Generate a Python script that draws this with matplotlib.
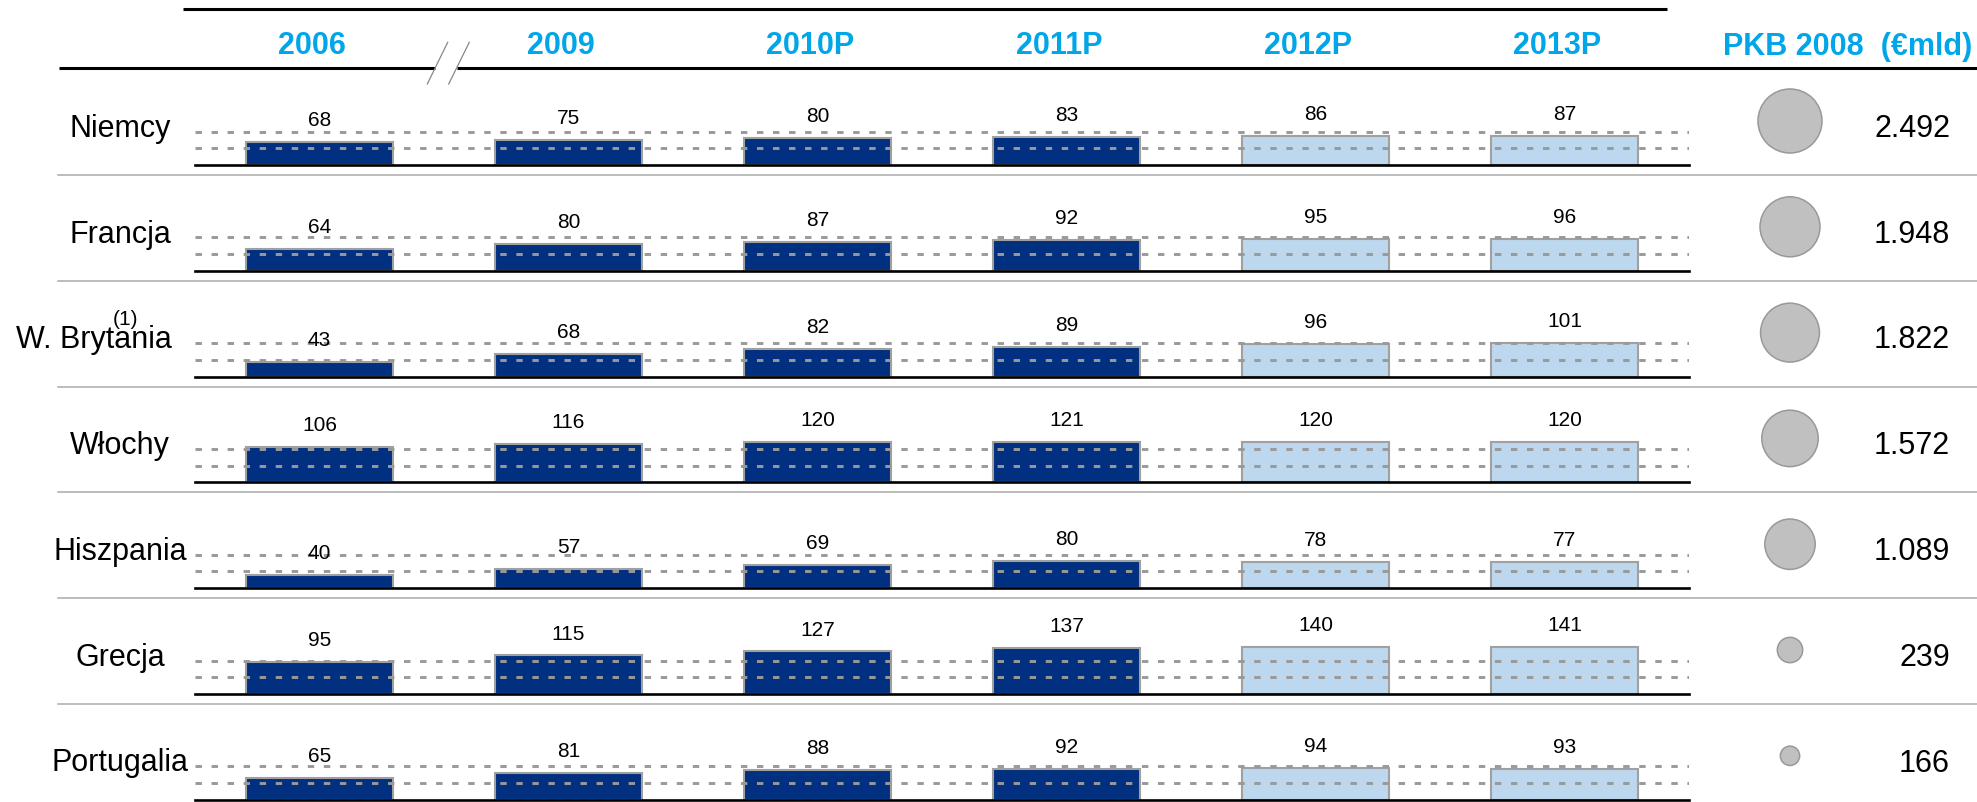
import matplotlib
matplotlib.use('Agg')
import matplotlib.pyplot as plt
import numpy as np

plt.rcParams['font.family'] = ['Liberation Sans', 'DejaVu Sans']

# --- data -------------------------------------------------------------------
years = ['2006', '2009', '2010P', '2011P', '2012P', '2013P']
projected = [False, False, False, False, True, True]
countries = ['Niemcy', 'Francja', 'W. Brytania', 'Włochy', 'Hiszpania', 'Grecja', 'Portugalia']

debt_niemcy = [68, 75, 80, 83, 86, 87]
debt_francja = [64, 80, 87, 92, 95, 96]
debt_wbrytania = [43, 68, 82, 89, 96, 101]
debt_wlochy = [106, 116, 120, 121, 120, 120]
debt_hiszpania = [40, 57, 69, 80, 78, 77]
debt_grecja = [95, 115, 127, 137, 140, 141]
debt_portugalia = [65, 81, 88, 92, 94, 93]
debt = [debt_niemcy, debt_francja, debt_wbrytania, debt_wlochy,
        debt_hiszpania, debt_grecja, debt_portugalia]

gdp_2008 = [2492, 1948, 1822, 1572, 1089, 239, 166]
guide_levels = [50, 100]
footnotes = {'W. Brytania': '(1)'}

# --- layout (pixels) ----------------------------------------------------------
W, H = 1977, 803
ROW0, ROW_STEP = 166, 105.8       # baseline of first row, row pitch
PX_PER_UNIT = 0.335               # bar height scale
BAR_LEFT, BAR_RIGHT = 195, 1689
HEAD_COLOR = '#00A6E8'
DARK, LIGHT = '#00307F', '#BDD7EE'
EDGE = '#A0A0A0'


def fx(px):
    return px / W


def fy(py):
    return 1 - py / H


fig = plt.figure(figsize=(W / 100, H / 100), dpi=100)

# decoration layer in pixel coordinates
deco = fig.add_axes([0, 0, 1, 1])
deco.set_xlim(0, W)
deco.set_ylim(H, 0)
deco.axis('off')

deco.plot([183, 1667], [10, 10], color='black', lw=2.2, solid_capstyle='butt')
deco.plot([59, 435], [69, 69], color='black', lw=2.2, solid_capstyle='butt')
deco.plot([457, W], [69, 69], color='black', lw=2.2, solid_capstyle='butt')
# axis break between 2006 and 2009
deco.plot([447.7, 427.3], [43.3, 85], color='#888888', lw=0.9)
deco.plot([469.3, 448.7], [43.3, 85], color='#888888', lw=0.9)

deco.text(1972, 54.5, 'PKB 2008  (\u20acmld)', ha='right', va='baseline',
          fontsize=22, fontweight='bold', color=HEAD_COLOR)

# year headers share the x scale of the bar rows
hdr = fig.add_axes([fx(BAR_LEFT), fy(69), fx(BAR_RIGHT - BAR_LEFT), 69 / H])
hdr.set_xlim(-0.5, len(years) - 0.5)
hdr.set_ylim(69, 0)
hdr.axis('off')
for i, y in enumerate(years):
    hdr.text(i - 0.03, 54.5, y, ha='center', va='baseline', fontsize=22,
             fontweight='bold', color=HEAD_COLOR)

bar_colors = [LIGHT if p else DARK for p in projected]
row_h = 100

for r, (name, values) in enumerate(zip(countries, debt)):
    base = ROW0 + ROW_STEP * r
    ax = fig.add_axes([fx(BAR_LEFT), fy(base), fx(BAR_RIGHT - BAR_LEFT), row_h / H])
    ax.set_xlim(-0.5, len(years) - 0.5)
    ax.set_ylim(0, row_h / PX_PER_UNIT)
    ax.axis('off')
    ax.bar(range(len(years)), values, width=0.587, color=bar_colors,
           edgecolor=EDGE, linewidth=1.5, zorder=2)
    for lvl in guide_levels:
        ax.axhline(lvl, color='#999999', lw=2.1, dashes=(2.2, 3.3), zorder=3)
    ax.axhline(0, color='black', lw=1.9, zorder=4, clip_on=False)
    for j, v in enumerate(values):
        ax.annotate(str(v), (j, v), xytext=(0, 12.2), textcoords='offset points',
                    ha='center', va='baseline', fontsize=15)

    if r < len(countries) - 1:
        deco.plot([58, W], [base + 10, base + 10], color='#AAAAAA', lw=1.1)

# country labels
fig.canvas.draw()
renderer = fig.canvas.get_renderer()
for r, name in enumerate(countries):
    base = ROW0 + ROW_STEP * r
    t = deco.text(120, base - 29.3, name, ha='center', va='baseline', fontsize=22)
    width = t.get_window_extent(renderer).width
    if width > 150:
        t.set_x(172)
        t.set_ha('right')
    if name in footnotes:
        deco.text(125, base - 49, footnotes[name], ha='center', va='bottom',
                  fontsize=15)

# GDP column: bubbles + values
gdp_ax = fig.add_axes([fx(1740), 0, fx(W - 1740), 1])
gdp_ax.set_xlim(0, W - 1740)
c0 = ROW0 - 44
gdp_ax.set_ylim((H - c0) / ROW_STEP, -c0 / ROW_STEP)
gdp_ax.axis('off')

gdp = np.array(gdp_2008, dtype=float)
diam_px = 16.5 * np.log(gdp) - 65
gdp_ax.scatter(np.full(len(gdp), 50), np.arange(len(gdp)), s=(diam_px * 0.72) ** 2,
               color='#C0C0C0', edgecolor='#999999', linewidth=1.1, zorder=3)
for r, g in enumerate(gdp_2008):
    gdp_ax.annotate(f'{g:,}'.replace(',', '.'), (210, r), xytext=(0, -10.6),
                    textcoords='offset points', ha='right', va='baseline', fontsize=22)

fig.savefig('out.png', dpi=100)
